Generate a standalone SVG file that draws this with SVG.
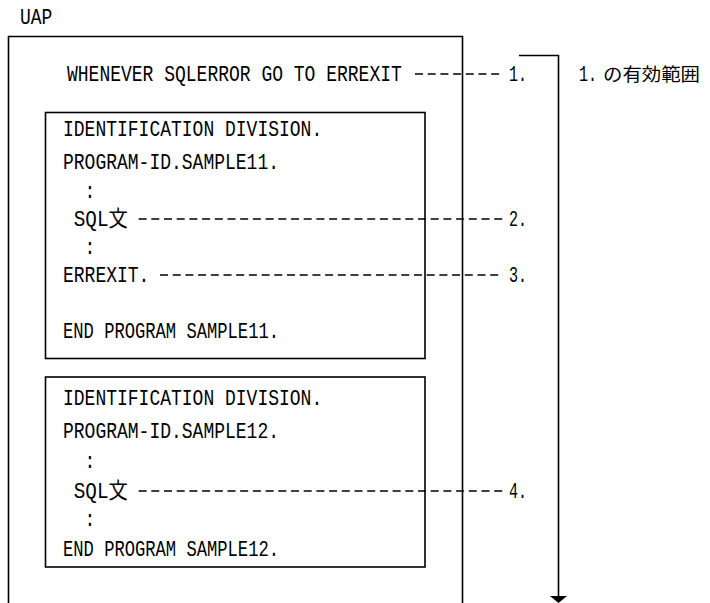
<svg xmlns="http://www.w3.org/2000/svg" width="710" height="603" viewBox="0 0 710 603">
<style>
.t{font-family:"Liberation Mono","Noto Sans CJK JP",monospace;font-size:22px;fill:#000}
.j{font-family:"Noto Sans CJK JP",sans-serif;font-size:18px;fill:#000}
.box{fill:none;stroke:#000;stroke-width:1.6}
.dash{stroke:#000;stroke-width:1.6;stroke-dasharray:8 4.7;fill:none}
.ln{stroke:#000;stroke-width:1.6;fill:none}
</style>
<rect width="710" height="603" fill="#fff"/>
<g id="label-uap"><text class="t" x="20" y="24" textLength="32.4" lengthAdjust="spacingAndGlyphs">UAP</text></g>
<g id="uap">
<path class="box" d="M8.5,603 V36.5 H462.5 V603"/>
<text class="t" x="67" y="81" textLength="334.8" lengthAdjust="spacingAndGlyphs">WHENEVER SQLERROR GO TO ERREXIT</text>
</g>
<g id="sample11">
<rect class="box" x="45.5" y="112.5" width="379.5" height="246"/>
<text class="t" x="63" y="136" textLength="259.2" lengthAdjust="spacingAndGlyphs">IDENTIFICATION DIVISION.</text>
<text class="t" x="63" y="169" textLength="216" lengthAdjust="spacingAndGlyphs">PROGRAM-ID.SAMPLE11.</text>
<text class="t" x="84.6" y="198" textLength="10.8" lengthAdjust="spacingAndGlyphs">:</text>
<text class="t" x="73.8" y="226" textLength="54" lengthAdjust="spacingAndGlyphs">SQL文</text>
<text class="t" x="84.6" y="254" textLength="10.8" lengthAdjust="spacingAndGlyphs">:</text>
<text class="t" x="63" y="282" textLength="86.4" lengthAdjust="spacingAndGlyphs">ERREXIT.</text>
<text class="t" x="63" y="338" textLength="216" lengthAdjust="spacingAndGlyphs">END PROGRAM SAMPLE11.</text>
</g>
<g id="sample12">
<rect class="box" x="45.5" y="377" width="379.5" height="190"/>
<text class="t" x="63" y="405" textLength="259.2" lengthAdjust="spacingAndGlyphs">IDENTIFICATION DIVISION.</text>
<text class="t" x="63" y="438" textLength="216" lengthAdjust="spacingAndGlyphs">PROGRAM-ID.SAMPLE12.</text>
<text class="t" x="84.6" y="468" textLength="10.8" lengthAdjust="spacingAndGlyphs">:</text>
<text class="t" x="73.8" y="498" textLength="54" lengthAdjust="spacingAndGlyphs">SQL文</text>
<text class="t" x="84.6" y="526" textLength="10.8" lengthAdjust="spacingAndGlyphs">:</text>
<text class="t" x="63" y="556" textLength="216" lengthAdjust="spacingAndGlyphs">END PROGRAM SAMPLE12.</text>
</g>
<g id="labels">
<text class="t" x="509" y="81" textLength="18" lengthAdjust="spacingAndGlyphs">1.</text>
<text class="t" x="509" y="226" textLength="18" lengthAdjust="spacingAndGlyphs">2.</text>
<text class="t" x="509" y="282" textLength="18" lengthAdjust="spacingAndGlyphs">3.</text>
<text class="t" x="509" y="498" textLength="18" lengthAdjust="spacingAndGlyphs">4.</text>
</g>
<g id="scope">
<text class="t" x="579" y="81" textLength="18" lengthAdjust="spacingAndGlyphs">1.</text>
<text class="j" x="603" y="81" textLength="97" lengthAdjust="spacingAndGlyphs">の有効範囲</text>
</g>
<g id="connectors">
<line class="dash" x1="415" y1="74" x2="503" y2="74"/>
<line class="dash" x1="138.6" y1="219" x2="503" y2="219"/>
<line class="dash" x1="160" y1="275" x2="503" y2="275"/>
<line class="dash" x1="138.6" y1="491" x2="503" y2="491"/>
<path class="ln" d="M519,55.5 H558.5 V597"/>
<polygon points="550,596 567,596 558.5,603" fill="#000"/>
</g>
</svg>
